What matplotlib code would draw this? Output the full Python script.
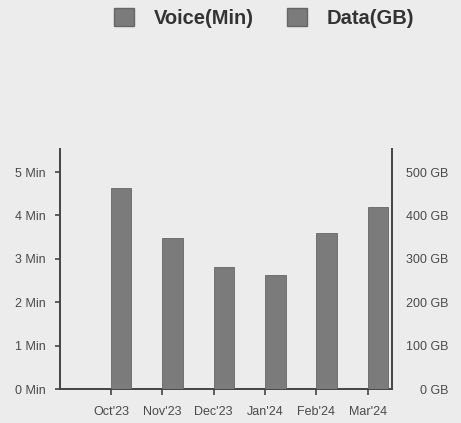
import matplotlib
matplotlib.use("Agg")
import matplotlib.pyplot as plt
from matplotlib.patches import Patch
import numpy as np

plt.rcParams['font.family'] = ['Liberation Sans', 'DejaVu Sans']

months = ["Oct'23", "Nov'23", "Dec'23", "Jan'24", "Feb'24", "Mar'24"]
voice_min = [0, 0, 0, 0, 0, 0]
data_gb = [463, 348, 281, 263, 359, 419]
left_ticks = [0, 1, 2, 3, 4, 5]
left_labels = ["0 Min", "1 Min", "2 Min", "3 Min", "4 Min", "5 Min"]
right_ticks = [0, 100, 200, 300, 400, 500]
right_labels = ["0 GB", "100 GB", "200 GB", "300 GB", "400 GB", "500 GB"]

bg = '#ececec'
bar_col = '#7b7b7b'
spine_col = '#444444'
label_col = '#4a4a4a'

fig = plt.figure(figsize=(4.61, 4.23), dpi=100, facecolor=bg)
ax = fig.add_axes([60/461, 1-389/423, (392-60)/461, (389-149)/423])
ax.set_facecolor(bg)
ax2 = ax.twinx()

x = np.arange(len(months))
w = 0.4
ax.bar(x - w/2, voice_min, width=w, color=bar_col, edgecolor='#666666', linewidth=0.6)
ax2.bar(x + w/2, data_gb, width=w, color=bar_col, edgecolor='#666666', linewidth=0.6)

ax.set_xlim(-0.99, 5.47)
ax.set_ylim(0, 5.53)
ax2.set_ylim(0, 553)

ax.set_xticks(x)
ax.set_xticklabels(months, fontsize=9, color=label_col)
ax.set_yticks(left_ticks)
ax.set_yticklabels(left_labels, fontsize=9, color=label_col)
ax.tick_params(axis='y', length=3.5, width=1.2, color=spine_col, pad=6.5, direction='out')
ax.tick_params(axis='x', length=4, width=1.2, color=spine_col, pad=8, direction='out')

ax2.set_yticks(right_ticks)
ax2.set_yticklabels(right_labels, fontsize=9, color=label_col)
ax2.tick_params(axis='y', length=0, pad=40.5)
for lab in ax2.get_yticklabels():
    lab.set_horizontalalignment('right')

for a in (ax, ax2):
    a.spines['top'].set_visible(False)
ax.spines['right'].set_visible(False)
ax2.spines['left'].set_visible(False)
ax2.spines['bottom'].set_visible(False)
ax.spines['left'].set_color(spine_col)
ax.spines['left'].set_linewidth(1.4)
ax.spines['bottom'].set_color(spine_col)
ax.spines['bottom'].set_linewidth(1.4)
ax2.spines['right'].set_color(spine_col)
ax2.spines['right'].set_linewidth(1.4)

handles = [Patch(facecolor=bar_col, edgecolor='#666666', label='Voice(Min)'),
           Patch(facecolor=bar_col, edgecolor='#666666', label='Data(GB)')]
leg = fig.legend(handles=handles, loc='center', bbox_to_anchor=(0.573, 0.957), ncol=2,
                 frameon=False, handlelength=1.0, handleheight=1.0, handletextpad=1.0,
                 columnspacing=1.6, borderpad=0,
                 prop={'size': 14.5, 'weight': 'bold'})
for t in leg.get_texts():
    t.set_color('#333333')

fig.savefig('out.png', dpi=100, facecolor=bg)
